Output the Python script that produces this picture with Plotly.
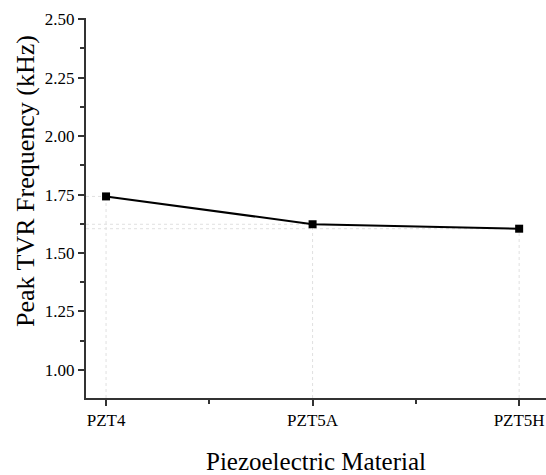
import plotly.graph_objects as go

materials = ["PZT4", "PZT5A", "PZT5H"]
peak_freq = [1.742, 1.623, 1.604]
y_ticks = [1.00, 1.25, 1.50, 1.75, 2.00, 2.25, 2.50]

xidx = list(range(len(materials)))
fig = go.Figure()

x_lo, x_hi = -0.097, 2.13
y_lo, y_hi = 0.88, 2.505

# drop lines from each point to both axes
for xi, v in zip(xidx, peak_freq):
    fig.add_trace(go.Scatter(x=[xi, xi], y=[y_lo, v], mode="lines",
                             line=dict(color="#e0e0e0", width=1, dash="dot"),
                             hoverinfo="skip", showlegend=False))
    fig.add_trace(go.Scatter(x=[x_lo, xi], y=[v, v], mode="lines",
                             line=dict(color="#e0e0e0", width=1, dash="dot"),
                             hoverinfo="skip", showlegend=False))

fig.add_trace(go.Scatter(x=xidx, y=peak_freq, mode="lines+markers",
                         line=dict(color="black", width=2),
                         marker=dict(symbol="square", size=8, color="black"),
                         showlegend=False))

FONT = "Liberation Serif"

W, H = 546, 475
ML, MR, MT, MB = 86, 0, 18, 77
pw, ph = W - ML - MR, H - MT - MB

fig.update_layout(
    width=W, height=H,
    margin=dict(l=ML, r=MR, t=MT, b=MB),
    paper_bgcolor="white", plot_bgcolor="white",
    font=dict(family=FONT, color="black"),
    xaxis=dict(range=[x_lo, x_hi], tickmode="array", tickvals=xidx, ticktext=materials,
               showgrid=False, zeroline=False, showline=True, linecolor="#333", linewidth=2,
               ticks="outside", ticklen=6, tickwidth=1.5, tickcolor="#333",
               minor=dict(tickmode="array", tickvals=[0.5, 1.5], ticks="outside", ticklen=4, tickwidth=1.5, tickcolor="#333"),
               tickfont=dict(family=FONT, size=17),
               title=dict(text="Piezoelectric Material", font=dict(family=FONT, size=25), standoff=24)),
    yaxis=dict(range=[y_lo, y_hi], tickmode="array", tickvals=y_ticks,
               ticktext=[f"{t:.2f}" for t in y_ticks],
               showgrid=False, zeroline=False, showline=True, linecolor="#333", linewidth=2,
               ticks="outside", ticklen=6, tickwidth=1.5, tickcolor="#333",
               minor=dict(tickmode="array", tickvals=[1.125, 1.375, 1.625, 1.875, 2.125, 2.375], ticks="outside", ticklen=4, tickwidth=1.5, tickcolor="#333"),
               tickfont=dict(family=FONT, size=17)),
    annotations=[dict(text="Peak TVR Frequency (kHz)", textangle=-90,
                      xref="paper", yref="paper",
                      x=(25 - ML) / pw, y=(MT + ph - 181) / ph,
                      xanchor="center", yanchor="middle", showarrow=False,
                      font=dict(family=FONT, size=26, color="black"))],
)

fig.write_html("out.html")
